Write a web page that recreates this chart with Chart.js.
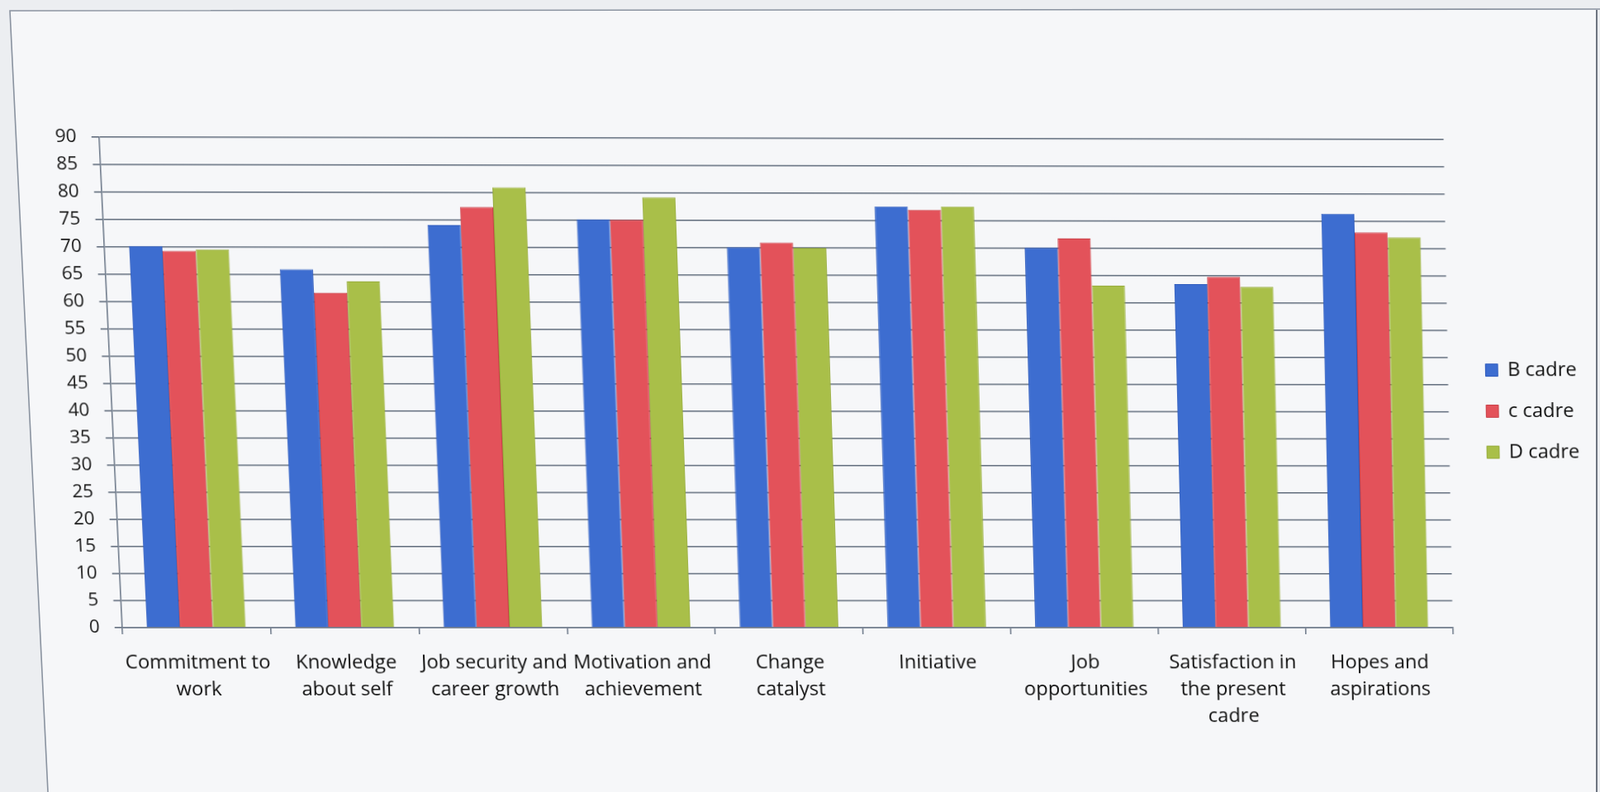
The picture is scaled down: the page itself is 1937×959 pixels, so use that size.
<!DOCTYPE html>
<html>
<head>
<meta charset="utf-8">
<title>Cadre comparison</title>
<script src="https://cdn.jsdelivr.net/npm/chart.js@4/dist/chart.umd.min.js"></script>
<style>
  html, body { margin: 0; padding: 0; background: #eceef1; overflow: hidden; }
  #wrap { position: relative; width: 1937px; height: 959px; overflow: hidden; }
  #frame { position: absolute; left: 0; top: 0; }
  #chart { position: absolute; left: 0; top: 0; display: block; transform-origin: 0 0; }
</style>
</head>
<body>
<div id="wrap">
  <svg id="frame" width="1937" height="959" xmlns="http://www.w3.org/2000/svg">
    <polygon points="12,13 1933,12 1933,959 58,959" fill="#f6f7f9"/>
    <polyline points="1937,11 12,13 58,959" fill="none" stroke="#8a93a0" stroke-width="1.6"/>
    <line x1="1933" y1="12" x2="1933" y2="959" stroke="#6d7480" stroke-width="2"/>
  </svg>
  <canvas id="chart" width="1937" height="959"></canvas>
</div>
<script>
// Factor categories (multi-line labels)
const categories = [
  ["Commitment to", "work"],
  ["Knowledge", "about self"],
  ["Job security and", "career growth"],
  ["Motivation and", "achievement"],
  ["Change", "catalyst"],
  ["Initiative"],
  ["Job", "opportunities"],
  ["Satisfaction in", "the present", "cadre"],
  ["Hopes and", "aspirations"]
];

// Scores per cadre
const bCadre = [70.2, 66.0, 74.1, 75.2, 70.1, 77.6, 70.1, 63.5, 76.4];
const cCadre = [69.3, 61.7, 77.4, 75.1, 71.0, 77.0, 71.8, 64.8, 73.0];
const dCadre = [69.6, 63.8, 81.0, 79.2, 70.0, 77.6, 63.2, 63.0, 72.1];

const seriesNames = ["B cadre", "c cadre", "D cadre"];
const yTicks = [0, 5, 10, 15, 20, 25, 30, 35, 40, 45, 50, 55, 60, 65, 70, 75, 80, 85, 90];

const FONT = "'Open Sans', Lato, sans-serif";

// Slight keystone of the printed page: solve a 4-point homography for the canvas
function homography(src, dst) {
  const A = [], b = [];
  for (let i = 0; i < 4; i++) {
    const [x, y] = src[i], [u, v] = dst[i];
    A.push([x, y, 1, 0, 0, 0, -x * u, -y * u]); b.push(u);
    A.push([0, 0, 0, x, y, 1, -x * v, -y * v]); b.push(v);
  }
  const n = 8;
  for (let c = 0; c < n; c++) {
    let p = c;
    for (let r = c + 1; r < n; r++) if (Math.abs(A[r][c]) > Math.abs(A[p][c])) p = r;
    [A[c], A[p]] = [A[p], A[c]]; [b[c], b[p]] = [b[p], b[c]];
    for (let r = 0; r < n; r++) {
      if (r === c) continue;
      const f = A[r][c] / A[c][c];
      for (let k = c; k < n; k++) A[r][k] -= f * A[c][k];
      b[r] -= f * b[c];
    }
  }
  return b.map((val, i) => val / A[i][i]);
}
const h = homography(
  [[112, 165], [1747, 165], [112, 759], [1747, 759]],
  [[112, 165], [1747, 168], [140, 759], [1758, 759]]
);
document.getElementById("chart").style.transform =
  `matrix3d(${h[0]},${h[3]},0,${h[6]},${h[1]},${h[4]},0,${h[7]},0,0,1,0,${h[2]},${h[5]},0,1)`;

new Chart(document.getElementById("chart"), {
  type: "bar",
  data: {
    labels: categories,
    datasets: [
      { label: seriesNames[0], data: bCadre, backgroundColor: "#3d6dd0", borderColor: "#2e5bbd", borderWidth: 1 },
      { label: seriesNames[1], data: cCadre, backgroundColor: "#e3525a", borderColor: "#c93f47", borderWidth: 1 },
      { label: seriesNames[2], data: dCadre, backgroundColor: "#a9bf49", borderColor: "#96ab3a", borderWidth: 1 }
    ]
  },
  options: {
    responsive: false,
    devicePixelRatio: 1,
    animation: false,
    layout: { padding: { left: 49, right: 20, top: 166, bottom: 54 } },
    datasets: { bar: { categoryPercentage: 0.667, barPercentage: 1.0 } },
    plugins: {
      tooltip: { enabled: false },
      legend: {
        position: "right",
        align: "center",
        fullSize: false,
        title: { display: true, text: " ", font: { size: 10 }, padding: { top: 52, bottom: 0 } },
        labels: {
          boxWidth: 15,
          boxHeight: 15,
          padding: 26,
          color: "#111",
          font: { family: FONT, size: 24 }
        }
      }
    },
    scales: {
      x: {
        offset: true,
        grid: { offset: true, drawOnChartArea: false, drawTicks: true, tickLength: 8, color: "#6f7b8b", lineWidth: 1.6 },
        border: { color: "#6f7b8b", width: 1.6 },
        ticks: { color: "#111", font: { family: FONT, size: 24, lineHeight: 1.375 }, maxRotation: 0, minRotation: 0, autoSkip: false, padding: 19 }
      },
      y: {
        min: 0,
        max: 90,
        afterBuildTicks(axis) { axis.ticks = yTicks.map(v => ({ value: v })); },
        grid: { color: "#5f6b7b", lineWidth: 1.6, drawTicks: true, tickLength: 9 },
        border: { color: "#6f7b8b", width: 1.6 },
        ticks: { color: "#1a1a1a", font: { family: FONT, size: 22.5 }, padding: 18 }
      },
      gap: {
        type: "linear",
        position: "right",
        display: true,
        grid: { display: false, drawTicks: false },
        border: { display: false },
        ticks: { display: false },
        afterFit(axis) { axis.width = 20; }
      }
    }
  }
});
</script>
</body>
</html>
